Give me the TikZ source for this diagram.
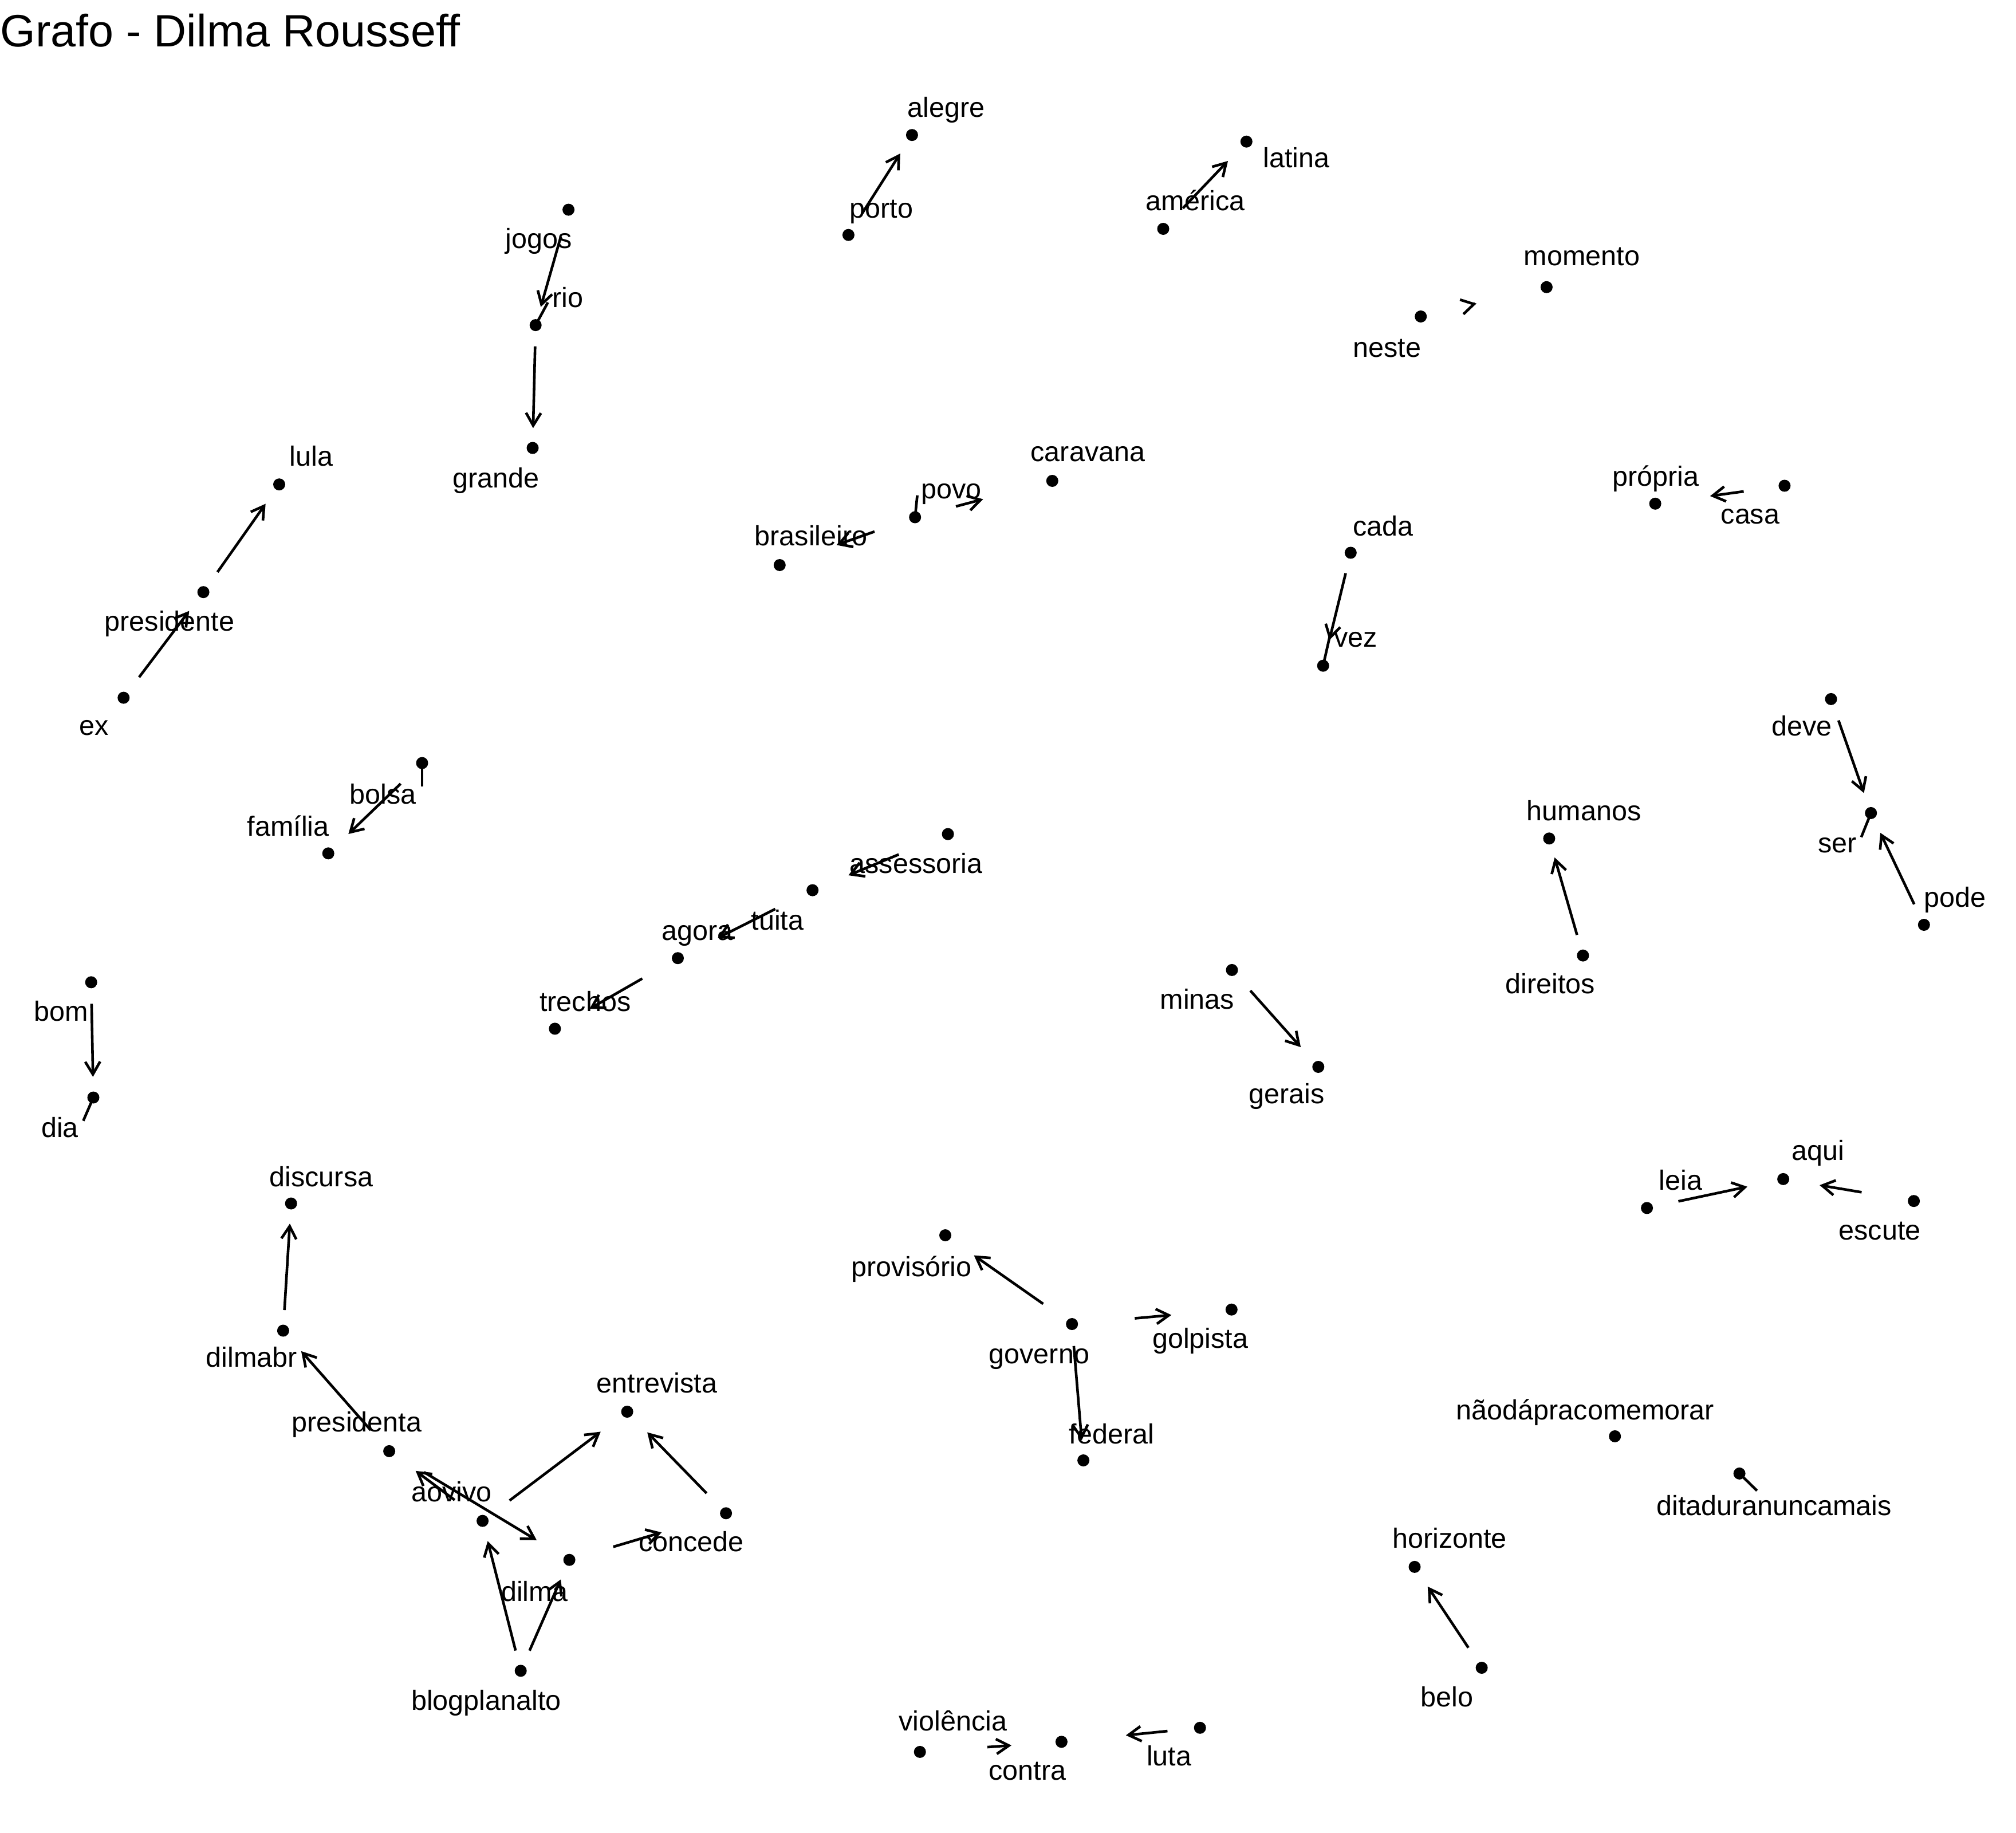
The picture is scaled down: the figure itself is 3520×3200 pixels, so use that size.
\documentclass[tikz,border=0pt]{standalone}
\usepackage{fontspec}
\setmainfont{Liberation Sans}
\usetikzlibrary{arrows.meta}
\tikzset{
  dot/.style={circle, fill=black, inner sep=0pt, minimum size=0.21cm},
  lbl/.style={anchor=base west, inner sep=0pt, font=\fontsize{13.8}{16}\selectfont},
  edge/.style={line width=0.046cm, -{Straight Barb[length=0.22cm,width=0.26cm,line cap=butt,line join=miter]}},
  rep/.style={line width=0.046cm},
}
\newcommand{\ed}[4]{\draw[edge, shorten <=#3cm, shorten >=#4cm] (#1.center) -- (#2.center);}
\begin{document}
\begin{tikzpicture}[x=0.01cm, y=-0.01cm]
\useasboundingbox[fill=white] (0,0) rectangle (3520,3200);
\node[anchor=base west, inner sep=0pt, font=\fontsize{22.5}{26}\selectfont] (title) at (0,81.6) {Grafo - Dilma Rousseff};

% dots
\foreach \n/\x/\y in {ex/215.8/1218.1, presidente/355.1/1033.7, lula/487.5/845.7, jogos/992.6/366.1, rio/935.2/567.6, grande/930/782, alegre/1592.4/235.7, porto/1481.4/410.2, latina/2176.3/247.2, america/2031/399.5, caravana/1837.3/839.5, povo/1597.7/903, brasileiro/1361.3/986.5, momento/2700.4/501.3, neste/2480.7/552.5, propria/2890.1/879.3, casa/3115.9/848, cada/2358.3/965, vez/2310.2/1162.2, bolsa/737/1332.1, familia/573.2/1489.8, bom/159.2/1714.8, dia/163/1916, trechos/968.9/1795.9, agora/1183.5/1672.7, assessoria/1655.1/1456.1, tuita/1418.7/1554.1, minas/2151/1693.4, gerais/2301.8/1862.5, deve/3197/1220.4, ser/3266.7/1419.4, pode/3359.3/1614.5, humanos/2704.9/1463.8, direitos/2763.9/1668.1, aqui/3113.6/2058.4, leia/2875.6/2108.9, escute/3341.6/2096.7, discursa/508.2/2101, dilmabr/494.4/2323, presidenta/679.6/2533.4, aovivo/842.6/2655.1, dilma/994.1/2723.2, blogplanalto/909.2/2916.8, entrevista/1095.1/2464.5, concede/1267.6/2641.8, provisorio/1650.5/2156.5, governo/1871.7/2311.5, golpista/2150.3/2286.2, federal/1891.6/2549.5, violencia/1606.2/3058.4, contra/1853.4/3040.8, luta/2095.2/3016.3, naoda/2819.7/2507.4, ditadura/3037.1/2572.4, horizonte/2470/2735.4, belo/2587.1/2911.5}
  {\node[dot] (\n) at (\x,\y) {};}

% labels
\node[lbl] (l-jogos) at (882,433.7) {jogos};
\node[lbl] (l-rio) at (964,536) {rio};
\node[lbl] (l-grande) at (790,851) {grande};
\node[lbl] (l-lula) at (505,813) {lula};
\node[lbl] (l-presidente) at (182,1101.8) {presidente};
\node[lbl] (l-ex) at (138,1283.2) {ex};
\node[lbl] (l-alegre) at (1584,205) {alegre};
\node[lbl] (l-porto) at (1483,380) {porto};
\node[lbl] (l-latina) at (2205,293) {latina};
\node[lbl] (l-america) at (2000,367.3) {américa};
\node[lbl] (l-caravana) at (1799,805.9) {caravana};
\node[lbl] (l-povo) at (1608,870) {povo};
\node[lbl] (l-brasileiro) at (1317,952.8) {brasileiro};
\node[lbl] (l-momento) at (2660,463) {momento};
\node[lbl] (l-neste) at (2362,623.7) {neste};
\node[lbl] (l-propria) at (2815,848) {própria};
\node[lbl] (l-casa) at (3004,914.5) {casa};
\node[lbl] (l-cada) at (2362,935.2) {cada};
\node[lbl] (l-vez) at (2329,1129.5) {vez};
\node[lbl] (l-bolsa) at (610,1403.3) {bolsa};
\node[lbl] (l-familia) at (431,1459.2) {família};
\node[lbl] (l-bom) at (59,1782.1) {bom};
\node[lbl] (l-dia) at (71.5,1985) {dia};
\node[lbl] (l-trechos) at (941.6,1765.3) {trechos};
\node[lbl] (l-discursa) at (470,2071.4) {discursa};
\node[lbl] (l-assessoria) at (1483,1524.2) {assessoria};
\node[lbl] (l-tuita) at (1311,1623.7) {tuita};
\node[lbl] (l-agora) at (1155,1641.3) {agora};
\node[lbl] (l-minas) at (2025,1761.5) {minas};
\node[lbl] (l-gerais) at (2180,1926) {gerais};
\node[lbl] (l-deve) at (3093,1284.7) {deve};
\node[lbl] (l-ser) at (3174,1488.3) {ser};
\node[lbl] (l-pode) at (3359,1583.2) {pode};
\node[lbl] (l-humanos) at (2665,1432.4) {humanos};
\node[lbl] (l-direitos) at (2628,1734.7) {direitos};
\node[lbl] (l-aqui) at (3128,2025.5) {aqui};
\node[lbl] (l-leia) at (2896,2077.5) {leia};
\node[lbl] (l-escute) at (3210,2164.8) {escute};
\node[lbl] (l-dilmabr) at (359,2386.5) {dilmabr};
\node[lbl] (l-presidenta) at (509,2499) {presidenta};
\node[lbl] (l-aovivo) at (717.5,2621.4) {aovivo};
\node[lbl] (l-dilma) at (874.5,2795.9) {dilma};
\node[lbl] (l-blogplanalto) at (717.5,2985) {blogplanalto};
\node[lbl] (l-entrevista) at (1041,2431) {entrevista};
\node[lbl] (l-concede) at (1114.5,2708) {concede};
\node[lbl] (l-provisorio) at (1485.5,2228.1) {provisório};
\node[lbl] (l-governo) at (1726,2380.4) {governo};
\node[lbl] (l-golpista) at (2011.5,2353.6) {golpista};
\node[lbl] (l-federal) at (1866,2520.4) {federal};
\node[lbl] (l-violencia) at (1569,3021.7) {violência};
\node[lbl] (l-contra) at (1726,3107.4) {contra};
\node[lbl] (l-luta) at (2001.5,3082.9) {luta};
\node[lbl] (l-naoda) at (2542,2478.3) {nãodápracomemorar};
\node[lbl] (l-ditadura) at (2892,2645.1) {ditaduranuncamais};
\node[lbl] (l-horizonte) at (2430.5,2702.5) {horizonte};
\node[lbl] (l-belo) at (2480,2979.6) {belo};

% label-to-dot segments
\coordinate (r-rio) at (956.6,528);
\coordinate (r-povo) at (1601.6,864.8);
\coordinate (r-bolsa) at (737,1372.7);
\coordinate (r-dia) at (145.4,1956.6);
\coordinate (r-vez) at (2322,1110);
\coordinate (r-ser) at (3249.8,1461.5);
\coordinate (r-ditadura) at (3067.7,2602.3);
\foreach \n in {rio,povo,bolsa,dia,vez,ser,ditadura}
  {\draw[rep] (\n.center) -- (r-\n);}

% edges: source, target, start gap, end gap
\ed{ex}{presidente}{0.449}{0.411}
\ed{presidente}{lula}{0.428}{0.413}
\ed{jogos}{rio}{0.49}{0.33}
\ed{rio}{grande}{0.37}{0.346}
\ed{porto}{alegre}{0.441}{0.383}
\ed{america}{latina}{0.497}{0.467}
\ed{neste}{momento}{0.97}{1.256}
\ed{povo}{caravana}{0.738}{1.249}
\ed{povo}{brasileiro}{0.75}{1.053}
\ed{casa}{propria}{0.72}{0.966}
\ed{cada}{vez}{0.368}{0.458}
\ed{bolsa}{familia}{0.52}{0.487}
\ed{bom}{dia}{0.375}{0.36}
\ed{assessoria}{tuita}{0.929}{0.679}
\ed{tuita}{agora}{0.728}{0.781}
\ed{agora}{trechos}{0.715}{0.695}
\ed{minas}{gerais}{0.482}{0.461}
\ed{direitos}{humanos}{0.374}{0.345}
\ed{deve}{ser}{0.395}{0.37}
\ed{pode}{ser}{0.397}{0.382}
\ed{leia}{aqui}{0.561}{0.64}
\ed{escute}{aqui}{0.924}{0.643}
\ed{dilmabr}{discursa}{0.36}{0.353}
\ed{presidenta}{dilmabr}{0.488}{0.477}
\ed{aovivo}{presidenta}{0.608}{0.575}
\ed{presidenta}{dilma}{0.71}{0.666}
\ed{blogplanalto}{aovivo}{0.364}{0.363}
\ed{blogplanalto}{dilma}{0.384}{0.373}
\ed{aovivo}{entrevista}{0.59}{0.58}
\ed{concede}{entrevista}{0.487}{0.502}
\ed{dilma}{concede}{0.799}{1.172}
\ed{governo}{provisorio}{0.614}{0.61}
\ed{governo}{golpista}{1.10}{1.054}
\ed{governo}{federal}{0.384}{0.353}
\ed{violencia}{contra}{1.181}{0.875}
\ed{luta}{contra}{0.57}{1.13}
\ed{belo}{horizonte}{0.42}{0.412}
\end{tikzpicture}
\end{document}
